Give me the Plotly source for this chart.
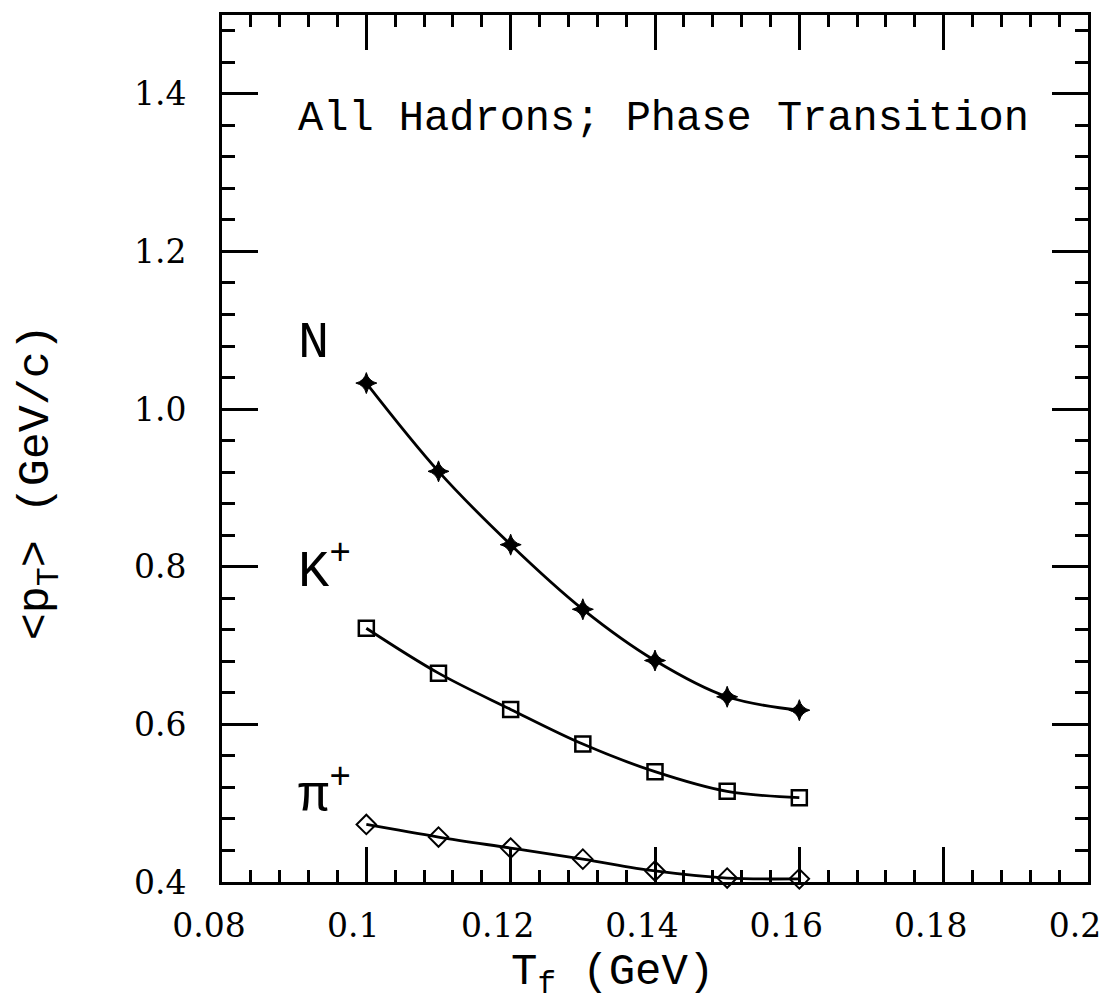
import plotly.graph_objects as go

# Data
T_f = [0.10, 0.11, 0.12, 0.13, 0.14, 0.15, 0.16]
pt_N = [1.033, 0.921, 0.828, 0.746, 0.681, 0.635, 0.618]
pt_K = [0.722, 0.665, 0.619, 0.575, 0.540, 0.515, 0.507]
pt_pi = [0.473, 0.457, 0.443, 0.429, 0.414, 0.405, 0.404]

x_tickvals = [0.08, 0.10, 0.12, 0.14, 0.16, 0.18, 0.20]
x_ticktext = ["0.08", "0.1", "0.12", "0.14", "0.16", "0.18", "0.2"]
y_tickvals = [0.4, 0.6, 0.8, 1.0, 1.2, 1.4]
y_ticktext = ["0.4", "0.6", "0.8", "1.0", "1.2", "1.4"]

FONT = "Liberation Mono"
TICKFONT = "DejaVu Serif"
W, H = 1113, 1006
L, R, T, B = 222, 21, 12, 124

fig = go.Figure()
line_style = dict(color="black", width=2.8, shape="spline")

fig.add_trace(go.Scatter(x=T_f, y=pt_N, mode="lines+markers", line=line_style,
                         marker=dict(symbol="star-diamond", size=15, color="black",
                                     line=dict(color="black", width=1)),
                         cliponaxis=False, showlegend=False))
fig.add_trace(go.Scatter(x=T_f, y=pt_K, mode="lines+markers", line=line_style,
                         marker=dict(symbol="square-open", size=15, color="black",
                                     line=dict(color="black", width=2.5)),
                         cliponaxis=False, showlegend=False))
fig.add_trace(go.Scatter(x=T_f, y=pt_pi, mode="lines+markers", line=line_style,
                         marker=dict(symbol="diamond-open", size=15, color="black",
                                     line=dict(color="black", width=2)),
                         cliponaxis=False, showlegend=False))

axis_common = dict(showgrid=False, zeroline=False, showline=True, linecolor="black",
                   linewidth=3, mirror="allticks", ticks="inside", tickcolor="black",
                   tickwidth=2.5, ticklabeloverflow="allow",
                   tickfont=dict(family=TICKFONT, size=33, color="black"))

fig.update_xaxes(range=[0.08, 0.2], tickvals=x_tickvals, ticktext=x_ticktext,
                 ticklen=35, ticklabelstandoff=12, ticklabelshift=-13,
                 minor=dict(dtick=0.004, tick0=0.08, ticks="inside", ticklen=12,
                            tickwidth=2.5, tickcolor="black", showgrid=False),
                 **axis_common)
fig.update_yaxes(range=[0.4, 1.5], tickvals=y_tickvals, ticktext=y_ticktext,
                 ticklen=36, ticklabelstandoff=26,
                 minor=dict(dtick=0.04, tick0=0.4, ticks="inside", ticklen=13,
                            tickwidth=2.5, tickcolor="black", showgrid=False),
                 **axis_common)

pw = W - L - R
ph = H - T - B

def px_x(px):
    return (px - L) / pw

def px_y(py):
    return (H - B - py) / ph

annotations = [
    dict(text="All Hadrons; Phase Transition", x=px_x(296), y=px_y(116),
         xanchor="left", yanchor="middle", font=dict(family=FONT, size=42)),
    dict(text="N", x=px_x(296), y=px_y(342), xanchor="left", yanchor="middle",
         font=dict(family=FONT, size=52)),
    dict(text="K<sup>+</sup>", x=px_x(296), y=px_y(567), xanchor="left", yanchor="middle",
         font=dict(family=FONT, size=52)),
    dict(text="π<sup>+</sup>", x=px_x(296), y=px_y(792), xanchor="left", yanchor="middle",
         font=dict(family=FONT, size=52)),
    dict(text="T<sub>f</sub> (GeV)", x=px_x(614), y=px_y(975), xanchor="center",
         yanchor="middle", font=dict(family=FONT, size=44)),
    dict(text="&lt;p<sub>T</sub>&gt; (GeV/c)", x=px_x(38), y=px_y(481), xanchor="center",
         yanchor="middle", textangle=-90, font=dict(family=FONT, size=45)),
]
for a in annotations:
    a.update(xref="paper", yref="paper", showarrow=False)
    a["font"]["color"] = "black"

fig.update_layout(width=W, height=H, margin=dict(l=L, r=R, t=T, b=B),
                  plot_bgcolor="white", paper_bgcolor="white",
                  annotations=annotations)

fig.write_html("out.html")
